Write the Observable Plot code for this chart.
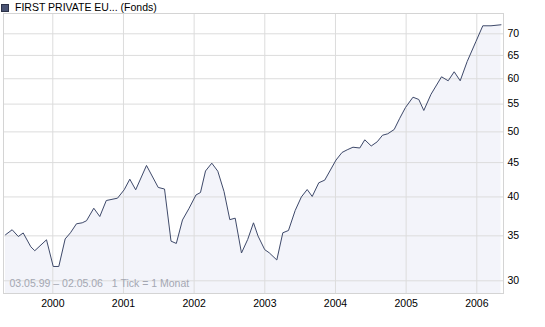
<!DOCTYPE html>
<html>
<head>
<meta charset="utf-8">
<script src="https://cdn.jsdelivr.net/npm/d3@7"></script>
<script src="https://cdn.jsdelivr.net/npm/@observablehq/plot@0.6"></script>
<style>
  html, body { margin: 0; padding: 0; background: #fff; }
  #wrap { position: relative; width: 545px; height: 327px; }
  #title { position: absolute; left: 0; top: 1px; height: 13px; line-height: 13px;
           font-family: 'Liberation Sans', Arial, sans-serif; font-size: 10.5px; color: #000; white-space: nowrap; }
  #title .sq { position: absolute; left: 1px; top: 3px; width: 6px; height: 6px; background: #4a5474; border: 1px solid #2c3248; }
  #title .tx { position: absolute; left: 15px; top: 0; }
</style>
</head>
<body>
<div id="wrap">
  <div id="title"><span class="sq"></span><span class="tx">FIRST PRIVATE EU... (Fonds)</span></div>
</div>
<script>
// Decimal-year positions and fund prices
const dates = [
  1999.331, 1999.425, 1999.512, 1999.581, 1999.689, 1999.745, 1999.911,
  2000.006, 2000.085, 2000.175, 2000.250, 2000.335, 2000.416, 2000.477, 2000.580, 2000.665, 2000.757, 2000.916,
  2001.010, 2001.090, 2001.173, 2001.326, 2001.492, 2001.581, 2001.673, 2001.748, 2001.835, 2001.925,
  2002.026, 2002.090, 2002.161, 2002.250, 2002.335, 2002.423, 2002.505, 2002.581, 2002.670, 2002.758, 2002.840, 2002.904, 2002.999,
  2003.062, 2003.170, 2003.255, 2003.335, 2003.430, 2003.517, 2003.600, 2003.671, 2003.764, 2003.848,
  2004.008, 2004.093, 2004.166, 2004.248, 2004.344, 2004.415, 2004.506, 2004.591, 2004.666, 2004.739, 2004.831, 2004.910, 2004.991,
  2005.097, 2005.179, 2005.250, 2005.352, 2005.501, 2005.595, 2005.680, 2005.765, 2005.864, 2005.989,
  2006.085, 2006.201, 2006.342
];
const values = [
  35.13, 35.74, 34.92, 35.35, 33.71, 33.26, 34.53,
  31.51, 31.51, 34.63, 35.37, 36.48, 36.60, 36.86, 38.48, 37.40, 39.51, 39.83,
  40.99, 42.51, 40.99, 44.56, 41.32, 41.10, 34.37, 34.10, 36.96, 38.41,
  40.27, 40.61, 43.72, 44.91, 43.69, 40.75, 37.00, 37.19, 33.00, 34.57, 36.60, 34.98, 33.38,
  33.03, 32.22, 35.37, 35.65, 38.18, 39.99, 41.03, 40.06, 41.99, 42.37,
  45.40, 46.59, 47.02, 47.44, 47.31, 48.66, 47.64, 48.33, 49.43, 49.67, 50.41, 52.40, 54.36,
  56.32, 55.88, 53.81, 56.88, 60.40, 59.58, 61.45, 59.58, 63.66, 68.22,
  71.95, 71.95, 72.20
];
const yearTicks = [2000, 2001, 2002, 2003, 2004, 2005, 2006];
const priceTicks = [30, 35, 40, 45, 50, 55, 60, 65, 70];
const caption = "03.05.99\u00a0\u2013\u00a002.05.06\u00a0\u00a0\u00a01\u00a0Tick\u00a0=\u00a01\u00a0Monat";

const data = dates.map((t, i) => ({t, v: values[i]}));
const yMin = 28.72, yMax = 75.05;

const chart = Plot.plot({
  width: 545,
  height: 327,
  marginTop: 13,
  marginRight: 42,
  marginBottom: 34,
  marginLeft: 3,
  style: {fontFamily: "'Liberation Sans', Arial, sans-serif", fontSize: "10.5px", color: "#000", background: "transparent"},
  x: {type: "linear", domain: [1999.3024, 2006.3778]},
  y: {type: "log", domain: [yMin, yMax]},
  marks: [
    Plot.areaY(data, {x: "t", y1: yMin, y2: "v", fill: "#f3f4fa"}),
    Plot.ruleX(yearTicks, {stroke: "#dcdcdc"}),
    Plot.ruleY(priceTicks, {stroke: "#dcdcdc"}),
    Plot.line(data, {x: "t", y: "v", stroke: "#3f4a6a", strokeWidth: 1}),
    Plot.text([caption], {frameAnchor: "bottom-left", dx: 6, dy: -7, fill: "#a4a7b2", textAnchor: "start"}),
    Plot.frame({stroke: "#d4d4d4"}),
    Plot.axisX({ticks: yearTicks, tickFormat: d => String(d), tickSize: 0, tickPadding: 6, label: null}),
    Plot.axisY({anchor: "right", ticks: priceTicks, tickFormat: d => String(d), tickSize: 0, tickPadding: 4, label: null})
  ]
});
chart.style.position = "absolute";
chart.style.left = "0";
chart.style.top = "0";
const wrap = document.getElementById("wrap");
wrap.insertBefore(chart, wrap.firstChild);
</script>
</body>
</html>
